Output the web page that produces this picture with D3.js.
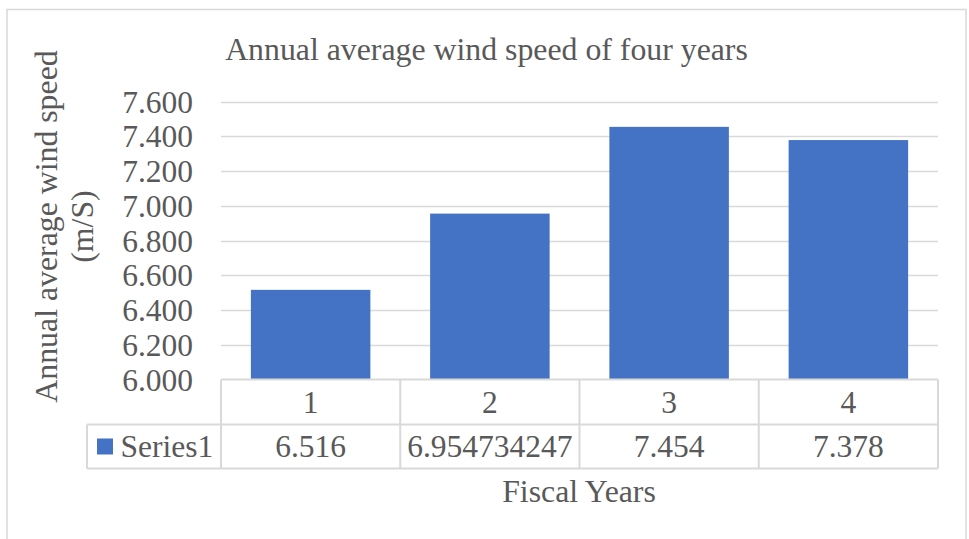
<!DOCTYPE html>
<html>
<head>
<meta charset="utf-8">
<script src="https://cdn.jsdelivr.net/npm/d3@7"></script>
<style>
  html, body { margin: 0; padding: 0; background: #fff; }
  svg { display: block; }
</style>
</head>
<body>
<svg id="chart" width="969" height="539"></svg>
<script>
// Annual average wind speed per fiscal year
const categories = ["1", "2", "3", "4"];
const seriesName = "Series1";
const values = [6.516, 6.954734247, 7.454, 7.378];
const valueLabels = ["6.516", "6.954734247", "7.454", "7.378"];
const yTicks = [6.0, 6.2, 6.4, 6.6, 6.8, 7.0, 7.2, 7.4, 7.6];
const titleText = "Annual average wind speed of four years";
const yTitleLines = ["Annual average wind speed", "(m/S)"];
const xTitleText = "Fiscal Years";

const plot = { left: 221, right: 938, top: 101.5, bottom: 379.5 };
const tableRow1 = 424.5, tableRow2 = 468.5, legendLeft = 87;
const fontSize = 31.5, titleSize = 31.8;
const FONT = '"Liberation Serif"';
const textColor = "#595959";
const barColor = "#4472C4";
const gridColor = "#d9d9d9";

const svg = d3.select("#chart");
const styleText = (sel, size) => sel
  .style("font-family", FONT)
  .style("font-size", size + "px")
  .style("fill", textColor);

// chart frame
svg.append("rect")
  .attr("x", 7).attr("y", 9.5)
  .attr("width", 959).attr("height", 560)
  .attr("fill", "#fff").attr("stroke", gridColor).attr("stroke-width", 1.5);

const x = d3.scaleBand().domain(categories)
  .range([plot.left, plot.right]).paddingInner(1/3).paddingOuter(1/6);
const xCell = d3.scaleBand().domain(categories).range([plot.left, plot.right]);
const y = d3.scaleLinear().domain([6.0, 7.6]).range([plot.bottom, plot.top]);

// title
svg.append("text")
  .attr("x", 486.5).attr("y", 60)
  .attr("text-anchor", "middle")
  .call(styleText, titleSize)
  .text(titleText);

// gridlines
svg.append("g").selectAll("line").data(yTicks.slice(1)).join("line")
  .attr("x1", plot.left).attr("x2", plot.right)
  .attr("y1", d => Math.round(y(d)) + 0.5).attr("y2", d => Math.round(y(d)) + 0.5)
  .attr("stroke", gridColor).attr("stroke-width", 1.3);

// y axis labels
const yAxis = d3.axisLeft(y).tickValues(yTicks).tickFormat(d3.format(".3f")).tickSize(0).tickPadding(28);
const gy = svg.append("g").attr("transform", `translate(${plot.left},0)`).call(yAxis);
gy.select(".domain").remove();
gy.selectAll("text")
  .attr("dy", "0.34em")
  .call(styleText, fontSize);

// bars
svg.append("g").selectAll("rect").data(values).join("rect")
  .attr("x", (d, i) => x(categories[i]))
  .attr("width", x.bandwidth())
  .attr("y", d => y(d))
  .attr("height", d => y(6.0) - y(d))
  .attr("fill", barColor);

// data table
const t = svg.append("g");
const line = (x1, y1, x2, y2) => t.append("line")
  .attr("x1", x1).attr("y1", y1).attr("x2", x2).attr("y2", y2)
  .attr("stroke", gridColor).attr("stroke-width", 2);
line(plot.left, plot.bottom, plot.right, plot.bottom);
line(legendLeft, tableRow1, plot.right, tableRow1);
line(legendLeft, tableRow2, plot.right, tableRow2);
line(legendLeft, tableRow1, legendLeft, tableRow2);
const colEdges = categories.map(c => xCell(c)).concat([plot.right]);
colEdges.forEach(cx => line(cx, plot.bottom, cx, tableRow2));

t.selectAll("text.cat").data(categories).join("text")
  .attr("class", "cat")
  .attr("x", c => xCell(c) + xCell.bandwidth() / 2)
  .attr("y", 413)
  .attr("text-anchor", "middle")
  .call(styleText, fontSize)
  .text(c => c);

t.selectAll("text.val").data(valueLabels).join("text")
  .attr("class", "val")
  .attr("x", (d, i) => xCell(categories[i]) + xCell.bandwidth() / 2)
  .attr("y", 457)
  .attr("text-anchor", "middle")
  .call(styleText, fontSize)
  .text(d => d);

// legend key
t.append("rect")
  .attr("x", 97).attr("y", 438.5).attr("width", 16).attr("height", 16)
  .attr("fill", barColor);
t.append("text")
  .attr("x", 120.5).attr("y", 457)
  .call(styleText, fontSize)
  .text(seriesName);

// axis titles
const yTitle = svg.append("text")
  .attr("transform", "translate(57,226.5) rotate(-90)")
  .attr("text-anchor", "middle")
  .call(styleText, titleSize);
yTitle.selectAll("tspan").data(yTitleLines).join("tspan")
  .attr("x", 0).attr("dy", (d, i) => i === 0 ? 0 : 36)
  .text(d => d);

svg.append("text")
  .attr("x", 579).attr("y", 502)
  .attr("text-anchor", "middle")
  .call(styleText, titleSize)
  .text(xTitleText);
</script>
</body>
</html>
